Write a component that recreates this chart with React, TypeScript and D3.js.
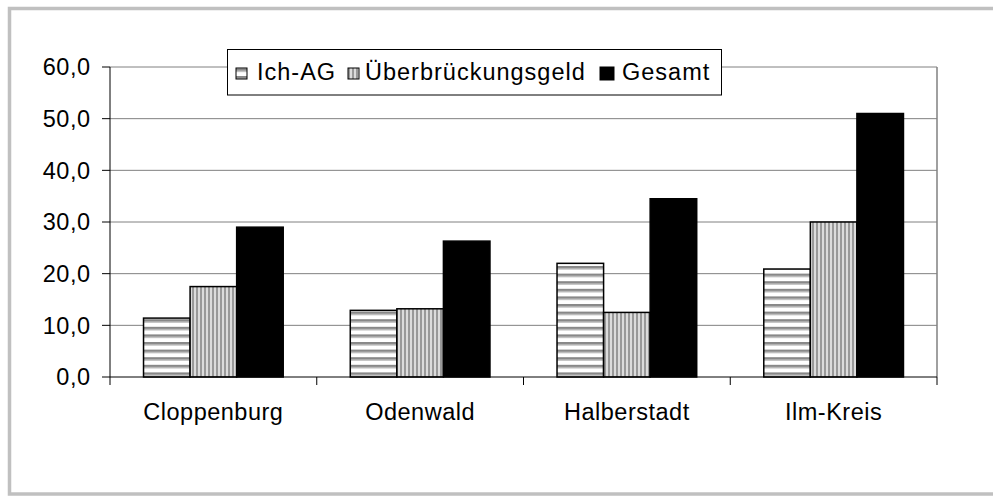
import React from "react";
import * as d3 from "d3";

// values
const regions = ["Cloppenburg", "Odenwald", "Halberstadt", "Ilm-Kreis"];
const seriesNames = ["Ich-AG", "Überbrückungsgeld", "Gesamt"];
const ichAG = [11.4, 12.9, 22.0, 20.9];
const ueberbrueckung = [17.5, 13.2, 12.5, 30.0];
const gesamt = [29.0, 26.3, 34.5, 51.0];
const yTicks = [0, 10, 20, 30, 40, 50, 60];

const W = 993;
const H = 496;
const plot = { left: 110, right: 937, top: 67, bottom: 377 };
const font = "'Liberation Sans', Arial, sans-serif";
const fs = 23.5;
const ls = 0.5;
const fills = ["url(#hstripe)", "url(#vstripe)", "#000"];

const fmt = (v: number) => v.toFixed(1).replace(".", ",");

export default function App() {
  const x = d3.scaleBand().domain(regions).range([plot.left, plot.right]).padding(0);
  const inner = d3
    .scaleBand()
    .domain(seriesNames)
    .range([0, x.bandwidth()])
    .paddingInner(0)
    .paddingOuter(0.72);
  const y = d3.scaleLinear().domain([0, 60]).range([plot.bottom, plot.top]);

  const values = [ichAG, ueberbrueckung, gesamt];
  const boundaries = [...regions.map((r) => x(r)!), plot.right];

  // legend items: swatch box + text start
  const legendItems = [
    { sx: 236, sy: 68, sw: 11, sh: 11, tx: 257 },
    { sx: 348, sy: 68, sw: 11, sh: 11, tx: 365 },
    { sx: 600, sy: 67, sw: 14, sh: 13, tx: 622 },
  ];

  return (
    <svg
      width={W}
      height={H}
      style={{ position: "absolute", left: 0, top: 0 }}
      fontFamily={font}
    >
      <defs>
        <pattern id="hstripe" width="8" height="7.6" patternUnits="userSpaceOnUse">
          <rect width="8" height="7.6" fill="#fff" />
          <rect y="0" width="8" height="2.6" fill="#888" />
          <rect y="2.6" width="8" height="1.2" fill="#c8c8c8" />
        </pattern>
        <pattern id="vstripe" width="4" height="8" patternUnits="userSpaceOnUse">
          <rect width="4" height="8" fill="#dcdcdc" />
          <rect x="0" width="2" height="8" fill="#999" />
        </pattern>
      </defs>

      <rect x={0} y={0} width={W} height={H} fill="#fff" />
      {/* outer frame */}
      <rect x={9.5} y={8.5} width={1000} height={485.5} fill="none" stroke="#c0c0c0" strokeWidth={3.5} />

      {/* gridlines + plot border */}
      {yTicks.slice(1).map((t) => (
        <line key={t} x1={plot.left} x2={plot.right} y1={y(t)} y2={y(t)} stroke="#808080" strokeWidth={1} />
      ))}
      <line x1={plot.right} x2={plot.right} y1={plot.top} y2={plot.bottom} stroke="#808080" strokeWidth={1.5} />

      {/* bars */}
      {regions.map((r, i) =>
        seriesNames.map((s, j) => (
          <rect
            key={r + s}
            x={x(r)! + inner(s)!}
            y={y(values[j][i])}
            width={inner.bandwidth()}
            height={plot.bottom - y(values[j][i])}
            fill={fills[j]}
            stroke="#000"
            strokeWidth={1.5}
          />
        ))
      )}

      {/* axes */}
      <line x1={plot.left} x2={plot.left} y1={plot.top} y2={plot.bottom} stroke="#000" strokeWidth={1} />
      <line x1={plot.left} x2={plot.right} y1={plot.bottom} y2={plot.bottom} stroke="#000" strokeWidth={1} />
      {yTicks.map((t) => (
        <g key={t}>
          <line x1={plot.left - 8} x2={plot.left} y1={y(t)} y2={y(t)} stroke="#000" />
          <text x={90.5} y={y(t) + 8.4} textAnchor="end" fontSize={fs} letterSpacing={ls} fill="#000">
            {fmt(t)}
          </text>
        </g>
      ))}
      {boundaries.map((b, i) => (
        <line key={i} x1={b} x2={b} y1={plot.bottom} y2={plot.bottom + 8} stroke="#000" />
      ))}
      {regions.map((r) => (
        <text
          key={r}
          x={x(r)! + x.bandwidth() / 2}
          y={420}
          textAnchor="middle"
          fontSize={fs}
          letterSpacing={ls}
          fill="#000"
        >
          {r}
        </text>
      ))}

      {/* legend */}
      <rect x={227.5} y={49.5} width={494} height={45.5} fill="#fff" stroke="#000" strokeWidth={1} />
      {seriesNames.map((s, j) => {
        const it = legendItems[j];
        return (
          <g key={s}>
            <rect x={it.sx} y={it.sy} width={it.sw} height={it.sh} fill={fills[j]} stroke="#000" strokeWidth={1} />
            <text x={it.tx} y={79.5} fontSize={fs} letterSpacing={1.0} fill="#000">
              {s}
            </text>
          </g>
        );
      })}
    </svg>
  );
}
